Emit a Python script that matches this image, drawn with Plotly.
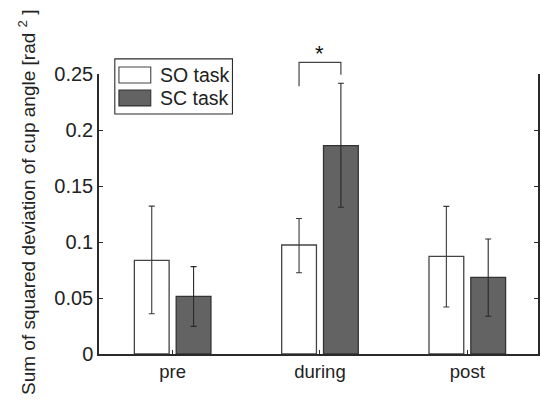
import plotly.graph_objects as go

categories = ["pre", "during", "post"]
cat_pos = [1, 2, 3]
so_mean = [0.0836, 0.0973, 0.0872]
so_err_hi = [0.0484, 0.0237, 0.0446]
so_err_lo = [0.0476, 0.0247, 0.0452]
sc_mean = [0.0515, 0.186, 0.0685]
sc_err_hi = [0.0265, 0.0557, 0.0342]
sc_err_lo = [0.0268, 0.055, 0.0348]
y_ticks = [0, 0.05, 0.1, 0.15, 0.2, 0.25]
y_tick_labels = ["0", "0.05", "0.1", "0.15", "0.2", "0.25"]
sig_pair = "during"
sig_levels = [0.239, 0.2604, 0.2494]  # left leg end, bracket top, right leg end

YMAX = 0.25
BW = 0.236
GAP = 0.024
FONT = "Liberation Sans, Arial, sans-serif"
DARK = "#636363"
INK = "#2a2a2a"

fig = go.Figure()
fig.add_trace(go.Bar(
    x=cat_pos, y=so_mean, width=BW, offset=-(BW + GAP), name="SO task",
    marker=dict(color="white", line=dict(color="#444444", width=1.3)),
    error_y=dict(type="data", symmetric=False, array=so_err_hi, arrayminus=so_err_lo,
                 color="#3a3a3a", thickness=1.1, width=3),
    showlegend=False,
))
fig.add_trace(go.Bar(
    x=cat_pos, y=sc_mean, width=BW, offset=GAP, name="SC task",
    marker=dict(color=DARK, line=dict(color="#333333", width=1.3)),
    error_y=dict(type="data", symmetric=False, array=sc_err_hi, arrayminus=sc_err_lo,
                 color="#2a2a2a", thickness=1.1, width=3),
    showlegend=False,
))

# significance bracket
ci = cat_pos[categories.index(sig_pair)]
xl = ci - GAP - BW / 2
xr = ci + GAP + BW / 2
fig.add_shape(type="path", xref="x", yref="paper",
              path=f"M {xl},{sig_levels[0]/YMAX} L {xl},{sig_levels[1]/YMAX} L {xr},{sig_levels[1]/YMAX} L {xr},{sig_levels[2]/YMAX}",
              line=dict(color="#444444", width=1.2))
fig.add_annotation(x=ci, y=sig_levels[1] / YMAX, xref="x", yref="paper", text="*",
                   showarrow=False, yanchor="bottom", yshift=-6,
                   font=dict(family=FONT, size=22, color="#111"))

# custom legend
fig.add_shape(type="rect", xref="paper", yref="paper", x0=0.036, x1=0.304, y0=0.857, y1=1.054,
              line=dict(color=INK, width=1.1), fillcolor="white", layer="above")
fig.add_shape(type="rect", xref="paper", yref="paper", x0=0.0454, x1=0.1179, y0=0.968, y1=1.025,
              line=dict(color="#444444", width=1.1), fillcolor="white", layer="above")
fig.add_shape(type="rect", xref="paper", yref="paper", x0=0.0454, x1=0.1179, y0=0.886, y1=0.943,
              line=dict(color="#333333", width=1.1), fillcolor=DARK, layer="above")
for name, yy in [("SO task", 0.996), ("SC task", 0.914)]:
    fig.add_annotation(x=0.134, y=yy, xref="paper", yref="paper", text=name, showarrow=False,
                       xanchor="left", yanchor="middle", font=dict(family=FONT, size=19.5, color="#222"))

# y title
fig.add_annotation(x=0, y=0.5, xref="paper", yref="paper", xshift=-72, yshift=12, textangle=-90,
                   text="Sum of squared deviation of cup angle [rad <sup>2</sup> ]",
                   showarrow=False, xanchor="center", yanchor="middle",
                   font=dict(family=FONT, size=19, color="#222"))

fig.update_layout(
    width=540, height=407,
    margin=dict(l=99, r=0, t=74, b=53),
    paper_bgcolor="white", plot_bgcolor="white",
    barmode="overlay",
    font=dict(family=FONT, size=19, color="#222"),
    xaxis=dict(range=[0.5, 3.48], tickvals=cat_pos, ticktext=categories,
               ticks="inside", ticklen=4, tickcolor=INK, showgrid=False, zeroline=False,
               showline=True, linecolor=INK, linewidth=1.5, mirror=False,
               tickfont=dict(family=FONT, size=18.5, color="#222")),
    yaxis=dict(range=[0, YMAX], tickvals=y_ticks, ticktext=y_tick_labels,
               ticks="inside", ticklen=4, tickcolor=INK, showgrid=False, zeroline=False,
               showline=True, linecolor=INK, linewidth=1.5, mirror="ticks",
               tickfont=dict(family=FONT, size=20, color="#222")),
)

fig.write_html("out.html", config={"displayModeBar": False},
               post_script="document.body.style.margin='0';document.body.style.padding='0';")
